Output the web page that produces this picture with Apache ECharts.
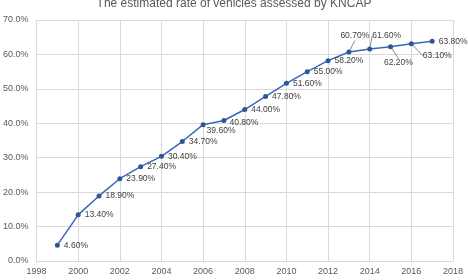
<!DOCTYPE html>
<html>
<head>
<meta charset="utf-8">
<script src="https://cdn.jsdelivr.net/npm/echarts@6/dist/echarts.min.js"></script>
<style>
  html, body { margin: 0; padding: 0; background: #fff; }
  #chart { width: 468px; height: 280px; }
</style>
</head>
<body>
<div id="chart"></div>
<script>
// year and share of assessed vehicles (%)
const years = [1999, 2000, 2001, 2002, 2003, 2004, 2005, 2006, 2007, 2008,
               2009, 2010, 2011, 2012, 2013, 2014, 2015, 2016, 2017];
const rates = [4.6, 13.4, 18.9, 23.9, 27.4, 30.4, 34.7, 39.6, 40.8, 44.0,
               47.8, 51.6, 55.0, 58.2, 60.7, 61.6, 62.2, 63.1, 63.8];

// labels that sit away from the point (moved relative to default right side)
const moved = {
    2006: [-3, 6], 2007: [-1, 2], 2013: [-15, -16], 2014: [-4, -13],
    2015: [-13, 16], 2016: [5, 12]
};
const withLine = [2013, 2014, 2015, 2016];

const chart = echarts.init(document.getElementById('chart'));

chart.setOption({
    animation: false,
    title: {
        text: 'The estimated rate of vehicles assessed by KNCAP',
        left: 'center',
        top: -7,
        textStyle: { fontFamily: 'Liberation Sans', fontSize: 12, fontWeight: 'normal', color: '#595959' }
    },
    grid: { left: 35, right: 15, top: 20, bottom: 19 },
    xAxis: {
        type: 'value',
        min: 1998, max: 2018, interval: 2,
        axisLine: { show: true, lineStyle: { color: '#d9d9d9' } },
        axisTick: { show: false },
        splitLine: { show: true, lineStyle: { color: '#d9d9d9' } },
        axisLabel: {
            color: '#595959', fontSize: 9, fontFamily: 'Liberation Sans', margin: 6,
            formatter: v => String(v)
        }
    },
    yAxis: {
        type: 'value',
        min: 0, max: 70, interval: 10,
        axisLine: { show: false },
        axisTick: { show: false },
        splitLine: { lineStyle: { color: '#d9d9d9' } },
        axisLabel: {
            color: '#595959', fontSize: 9, fontFamily: 'Liberation Sans', margin: 8,
            formatter: v => v.toFixed(1) + '%'
        }
    },
    series: [{
        type: 'line',
        data: years.map((y, i) => ({
            value: [y, rates[i]],
            labelLine: { show: withLine.indexOf(y) >= 0 }
        })),
        symbol: 'circle',
        symbolSize: 5,
        lineStyle: { color: '#3a67b8', width: 1.5 },
        itemStyle: { color: '#2f5597' },
        label: {
            show: true,
            position: 'right',
            distance: 4,
            fontSize: 8.5,
            fontFamily: 'Liberation Sans',
            color: '#404040',
            formatter: p => p.value[1].toFixed(2) + '%'
        },
        labelLine: { show: true, lineStyle: { color: '#8c8c8c', width: 1 } },
        labelLayout: function (p) {
            const m = moved[years[p.dataIndex]];
            return m ? { dx: m[0], dy: m[1] } : {};
        }
    }]
});
</script>
</body>
</html>
